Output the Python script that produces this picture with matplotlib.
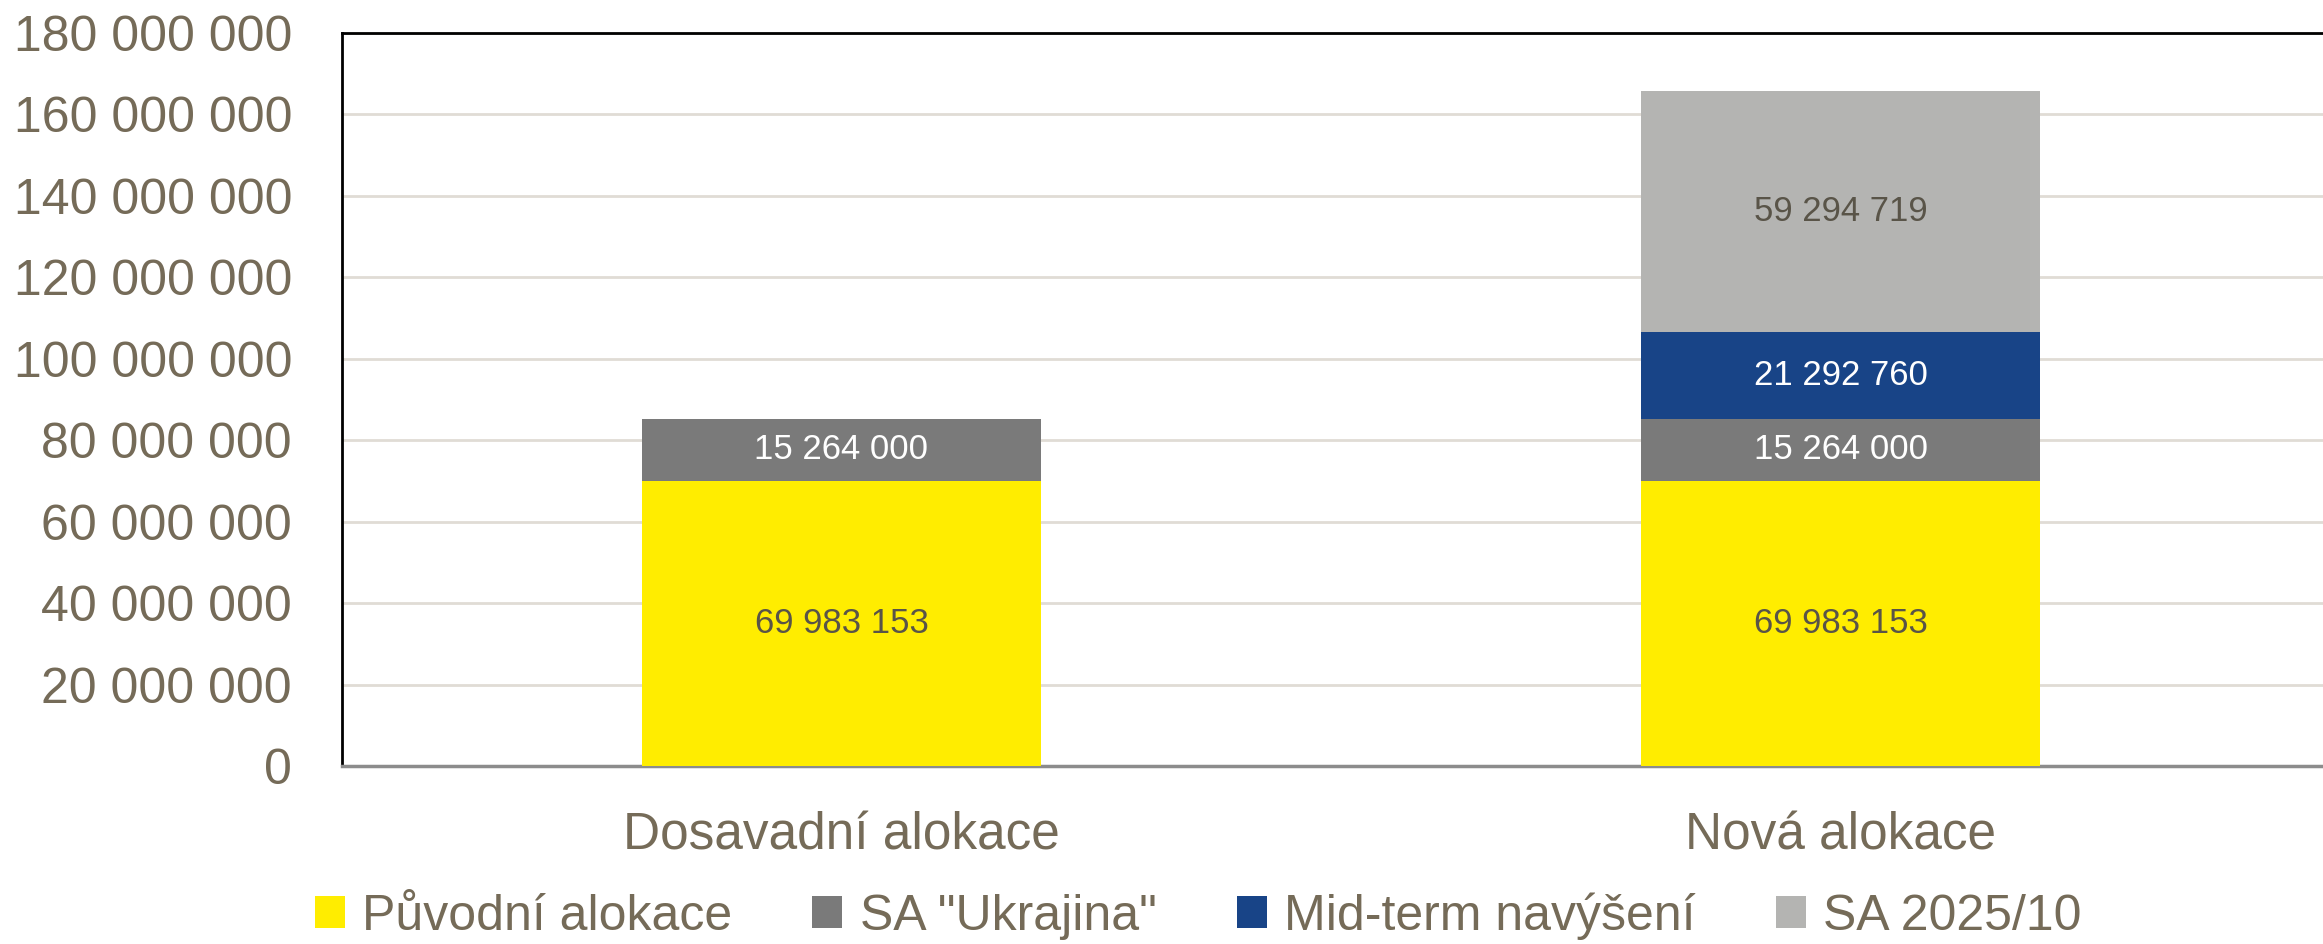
import matplotlib.pyplot as plt
from matplotlib.ticker import FuncFormatter

plt.rcParams['font.family'] = ['Liberation Sans', 'DejaVu Sans']

categories = ['Dosavadní alokace', 'Nová alokace']
series_names = ['Původní alokace', 'SA "Ukrajina"', 'Mid-term navýšení', 'SA 2025/10']
puvodni = [69983153, 69983153]
ukrajina = [15264000, 15264000]
midterm = [0, 21292760]
sa2025 = [0, 59294719]

colors = ['#FFED00', '#7A7A7A', '#184487', '#B4B4B2']
label_colors = ['#595448', 'white', 'white', '#595448']
text_col = '#756B58'


def fmt(v, pos=None):
    return '{:,.0f}'.format(v).replace(',', ' ')


def main():
    fig = plt.figure(figsize=(23.23, 9.44), dpi=100)
    W, H = 2323, 944
    ax = fig.add_axes([342 / W, (H - 766) / H, (2340 - 342) / W, (766 - 33) / H])

    xs = list(range(len(categories)))
    bottom = [0, 0]
    for name, vals, c, lc in zip(series_names, [puvodni, ukrajina, midterm, sa2025],
                                 colors, label_colors):
        bars = ax.bar(xs, vals, 0.4, bottom=bottom, color=c, label=name, zorder=3)
        for b, v, b0 in zip(bars, vals, bottom):
            if v > 0:
                ax.text(b.get_x() + b.get_width() / 2, b0 + v / 2, fmt(v),
                        ha='center', va='center', fontsize=25, color=lc, zorder=4)
        bottom = [b0 + v for b0, v in zip(bottom, vals)]

    ax.set_xlim(-0.5, 1.5)
    ax.set_ylim(0, 180000000)
    ax.set_yticks(range(0, 180000001, 20000000))
    ax.yaxis.set_major_formatter(FuncFormatter(fmt))
    ax.set_xticks(xs)
    ax.set_xticklabels(categories)
    ax.tick_params(axis='y', length=0, pad=36, labelsize=36, labelcolor=text_col)
    ax.tick_params(axis='x', length=0, pad=33, labelsize=37, labelcolor=text_col)
    ax.grid(axis='y', color='#E0DCD5', linewidth=2, zorder=0)
    ax.set_axisbelow(True)

    ax.spines['right'].set_visible(False)
    ax.spines['top'].set_color('black')
    ax.spines['top'].set_linewidth(2)
    ax.spines['left'].set_color('black')
    ax.spines['left'].set_linewidth(2)
    ax.spines['bottom'].set_color('#8C8C8C')
    ax.spines['bottom'].set_linewidth(2.5)

    fig.legend(loc='center', bbox_to_anchor=(1198 / W, (H - 916) / H), ncol=4,
               frameon=False, fontsize=36, handlelength=0.6, handleheight=0.6,
               handletextpad=0.35, columnspacing=1.6, labelcolor=text_col,
               borderpad=0)

    fig.savefig('out.png', dpi=100)


if __name__ == '__main__':
    main()
